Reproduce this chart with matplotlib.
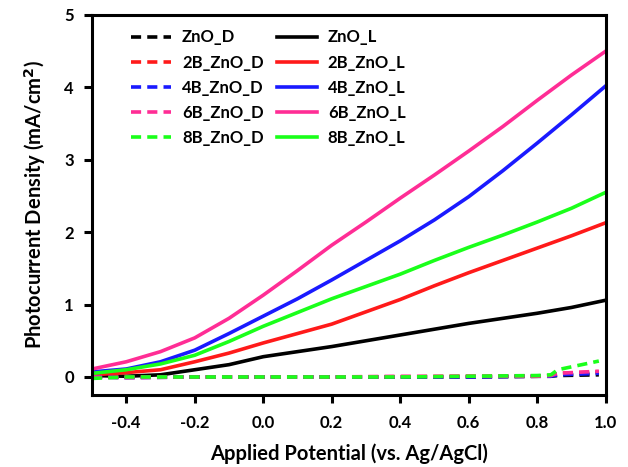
import matplotlib
matplotlib.use("Agg")
import matplotlib.pyplot as plt

# datos (potencial vs densidad de fotocorriente)
potencial = [-0.5, -0.4, -0.3, -0.2, -0.1, 0.0, 0.1, 0.2, 0.3, 0.4, 0.5, 0.6, 0.7, 0.8, 0.9, 1.0]

zno_L = [0.02, 0.01, 0.03, 0.10, 0.17, 0.28, 0.35, 0.42, 0.50, 0.58, 0.66, 0.74, 0.81, 0.88, 0.96, 1.06]
b2_L = [0.03, 0.06, 0.10, 0.21, 0.33, 0.47, 0.60, 0.73, 0.90, 1.07, 1.26, 1.44, 1.61, 1.78, 1.95, 2.13]
b4_L = [0.07, 0.11, 0.21, 0.37, 0.60, 0.84, 1.08, 1.34, 1.61, 1.88, 2.17, 2.49, 2.85, 3.23, 3.62, 4.02]
b6_L = [0.11, 0.21, 0.35, 0.54, 0.81, 1.13, 1.47, 1.82, 2.14, 2.47, 2.79, 3.12, 3.46, 3.82, 4.17, 4.50]
b8_L = [0.05, 0.10, 0.18, 0.30, 0.49, 0.70, 0.89, 1.08, 1.25, 1.42, 1.61, 1.79, 1.96, 2.14, 2.33, 2.55]

# curvas en oscuridad
potencial_D = [-0.5, -0.4, -0.2, 0.0, 0.2, 0.4, 0.6, 0.8, 0.84, 0.86, 0.98]
zno_D = [0.0, 0.0, 0.0, 0.0, 0.0, 0.0, 0.0, 0.01, 0.01, 0.02, 0.03]
b2_D = [0.0, 0.0, 0.0, 0.0, 0.0, 0.0, 0.01, 0.01, 0.02, 0.05, 0.07]
b4_D = [0.0, -0.01, 0.0, 0.0, 0.0, 0.0, 0.0, 0.01, 0.01, 0.03, 0.05]
b6_D = [0.0, -0.01, 0.0, 0.0, 0.0, 0.01, 0.01, 0.01, 0.02, 0.05, 0.08]
b8_D = [-0.02, 0.0, 0.0, 0.0, 0.0, 0.0, 0.01, 0.02, 0.03, 0.10, 0.22]

nombres = ["ZnO", "2B_ZnO", "4B_ZnO", "6B_ZnO", "8B_ZnO"]
colores = ["#000000", "#ff1a1a", "#1a1aff", "#ff2d95", "#1aff1a"]

plt.rcParams['font.family'] = ['Lato', 'DejaVu Sans']
plt.rcParams['font.weight'] = 'bold'

fig = plt.figure(figsize=(6.28, 4.67), dpi=100)
# ejes: x de 92 a 606 px, y de 15 a 395 px
ax = fig.add_axes([0.1465, 0.154, 0.818, 0.814])

curvas_L = [zno_L, b2_L, b4_L, b6_L, b8_L]
curvas_D = [zno_D, b2_D, b4_D, b6_D, b8_D]

lineas_D = []
lineas_L = []
for nombre, color, yl in zip(nombres, colores, curvas_L):
    l, = ax.plot(potencial, yl, color=color, lw=2.6, label=nombre + "_L")
    lineas_L.append(l)
for nombre, color, yd in zip(nombres, colores, curvas_D):
    d, = ax.plot(potencial_D, yd, color=color, lw=2.6, ls=(0, (2.8, 1.7)), label=nombre + "_D")
    lineas_D.append(d)

ax.set_xlim(-0.5, 1.0)
ax.set_ylim(-0.25, 5)
ax.set_xticks([-0.4, -0.2, 0.0, 0.2, 0.4, 0.6, 0.8, 1.0])
ax.set_xticklabels(["-0.4", "-0.2", "0.0", "0.2", "0.4", "0.6", "0.8", "1.0"])
ax.set_yticks([0, 1, 2, 3, 4, 5])

for s in ax.spines.values():
    s.set_linewidth(2.2)
ax.tick_params(direction='out', length=6, width=2.2, labelsize=12)
ax.tick_params(axis='x', pad=8)
ax.tick_params(axis='y', pad=7)
for t in ax.get_xticklabels() + ax.get_yticklabels():
    t.set_fontweight('bold')

ax.set_xlabel("Applied Potential (vs. Ag/AgCl)", fontsize=14.5, fontweight='bold', labelpad=9)
ax.set_ylabel("Photocurrent Density (mA/cm$^\\mathbf{2}$)", fontsize=14.5, fontweight='bold', labelpad=12)

# leyenda en dos columnas: oscuridad (_D) a la izquierda, luz (_L) a la derecha
leg = ax.legend(lineas_D + lineas_L, [l.get_label() for l in lineas_D + lineas_L],
                ncol=2, frameon=False, loc='upper left', bbox_to_anchor=(0.06, 0.984),
                borderpad=0, handlelength=2.4, columnspacing=0.8, labelspacing=0.55,
                handletextpad=0.65, prop={'weight': 'bold', 'size': 12})

fig.savefig("out.png", dpi=100)
